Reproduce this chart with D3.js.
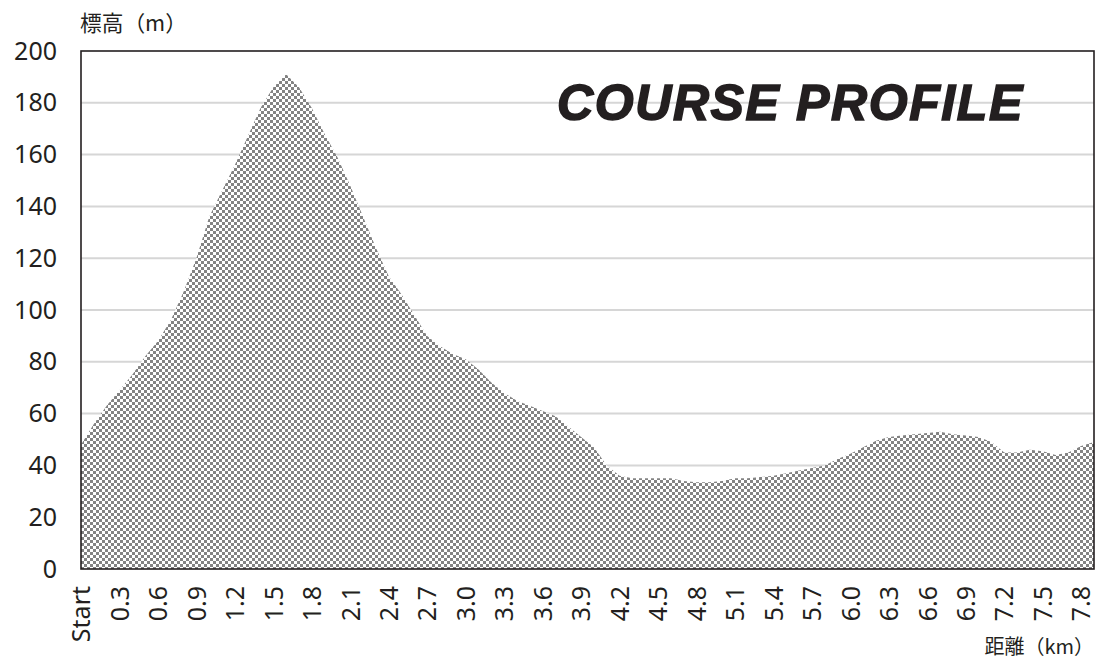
<!DOCTYPE html>
<html>
<head>
<meta charset="utf-8">
<script src="https://d3js.org/d3.v7.min.js"></script>
<style>
  body { margin: 0; background: #fff; }
</style>
</head>
<body>
<div id="chart"></div>
<script>
// distance categories (km), one point every 0.1 km
const distances = ["Start","0.1","0.2","0.3","0.4","0.5","0.6","0.7","0.8","0.9",
  "1.0","1.1","1.2","1.3","1.4","1.5","1.6","1.7","1.8","1.9",
  "2.0","2.1","2.2","2.3","2.4","2.5","2.6","2.7","2.8","2.9",
  "3.0","3.1","3.2","3.3","3.4","3.5","3.6","3.7","3.8","3.9",
  "4.0","4.1","4.2","4.3","4.4","4.5","4.6","4.7","4.8","4.9",
  "5.0","5.1","5.2","5.3","5.4","5.5","5.6","5.7","5.8","5.9",
  "6.0","6.1","6.2","6.3","6.4","6.5","6.6","6.7","6.8","6.9",
  "7.0","7.1","7.2","7.3","7.4","7.5","7.6","7.7","7.8","7.9"];

// elevation (m) at each distance
const elevations = [48, 56, 63, 69, 75, 82, 88, 96, 107, 120,
  136, 146, 156, 167, 178, 186, 191, 186, 178, 168,
  159, 148, 136, 124, 113, 106, 98, 90, 86, 83,
  81, 77, 72, 68, 65, 63, 61, 59, 55, 51,
  47, 40, 36, 35, 35, 35, 35, 34, 33.5, 33.5,
  34, 35, 35, 35.5, 36, 37, 38, 39, 40, 42.5,
  44.5, 47, 49.5, 51, 51.5, 52, 52.5, 53, 52, 51.5,
  51, 49, 45, 45, 46, 45.5, 44, 45, 47.5, 49];

const yTicks = [0, 20, 40, 60, 80, 100, 120, 140, 160, 180, 200];
// only every third distance gets a label
const xLabels = ["Start","0.3","0.6","0.9","1.2","1.5","1.8","2.1","2.4","2.7",
  "3.0","3.3","3.6","3.9","4.2","4.5","4.8","5.1","5.4","5.7",
  "6.0","6.3","6.6","6.9","7.2","7.5","7.8"];

const W = 1096, H = 659;
const plotLeft = 81, plotRight = 1094, plotTop = 51, plotBottom = 569;
const textColor = "#231f20";

const svg = d3.select("#chart").append("svg")
    .attr("width", W)
    .attr("height", H)
    .style("font-family", "'Noto Sans', 'Open Sans', sans-serif");

// checkerboard fill
const pat = svg.append("defs").append("pattern")
    .attr("id", "checker")
    .attr("patternUnits", "userSpaceOnUse")
    .attr("width", 6)
    .attr("height", 6);
pat.append("rect").attr("width", 6).attr("height", 6).attr("fill", "#fff");
pat.append("rect").attr("width", 3).attr("height", 3).attr("fill", "#838383");
pat.append("rect").attr("x", 3).attr("y", 3).attr("width", 3).attr("height", 3).attr("fill", "#838383");

const xScale = d3.scalePoint()
    .domain(distances)
    .range([plotLeft, plotRight]);

const yScale = d3.scaleLinear()
    .domain([0, 200])
    .range([plotBottom, plotTop]);

svg //gridlines
    .append("g")
    .selectAll("line")
    .data(yTicks.filter(d => d > 0 && d < 200))
    .enter()
    .append("line")
    .attr("x1", plotLeft)
    .attr("x2", plotRight)
    .attr("y1", d => yScale(d))
    .attr("y2", d => yScale(d))
    .attr("stroke", "#d6d6d6")
    .attr("stroke-width", 2);

const area = d3.area()
    .x((d, i) => xScale(distances[i]))
    .y0(yScale(0))
    .y1(d => yScale(d));

svg //elevation area
    .append("path")
    .datum(elevations)
    .attr("d", area)
    .attr("fill", "url(#checker)");

svg //plot frame
    .append("rect")
    .attr("x", plotLeft)
    .attr("y", plotTop)
    .attr("width", plotRight - plotLeft)
    .attr("height", plotBottom - plotTop)
    .attr("fill", "none")
    .attr("stroke", "#231f20")
    .attr("stroke-width", 1.6);

svg //y axis
    .append("g")
    .attr("transform", "translate(" + (plotLeft - 24) + ",0)")
    .call(d3.axisLeft(yScale).tickValues(yTicks).tickSize(0).tickPadding(0))
    .call(g => g.select(".domain").remove())
    .selectAll("text")
    .attr("fill", textColor)
    .style("font-size", "25px")
    .style("font-family", "'Noto Sans', sans-serif");

svg //x axis
    .append("g")
    .attr("transform", "translate(0," + plotBottom + ")")
    .call(d3.axisBottom(xScale).tickValues(xLabels).tickSize(0))
    .call(g => g.select(".domain").remove())
    .selectAll("text")
    .attr("fill", textColor)
    .style("font-size", "25px")
    .style("font-family", "'Noto Sans', sans-serif")
    .attr("transform", "rotate(-90)")
    .attr("text-anchor", "end")
    .attr("x", -17)
    .attr("y", 0)
    .attr("dy", "0.35em");

svg //y axis title
    .append("text")
    .attr("x", 80)
    .attr("y", 31)
    .attr("fill", textColor)
    .style("font-family", "'Noto Sans CJK JP', sans-serif")
    .style("font-size", "21.7px")
    .text("標高（m）");

svg //x axis title
    .append("text")
    .attr("x", 1094)
    .attr("y", 654)
    .attr("text-anchor", "end")
    .attr("fill", textColor)
    .style("font-family", "'Noto Sans CJK JP', sans-serif")
    .style("font-size", "20px")
    .text("距離（km）");

svg //chart title
    .append("text")
    .attr("x", 557)
    .attr("y", 120)
    .attr("fill", textColor)
    .attr("stroke", textColor)
    .attr("stroke-width", 1.6)
    .style("font-family", "'Liberation Sans', Arial, sans-serif")
    .style("font-weight", "bold")
    .style("font-style", "italic")
    .style("font-size", "50px")
    .style("letter-spacing", "1.6px")
    .text("COURSE PROFILE");
</script>
</body>
</html>
